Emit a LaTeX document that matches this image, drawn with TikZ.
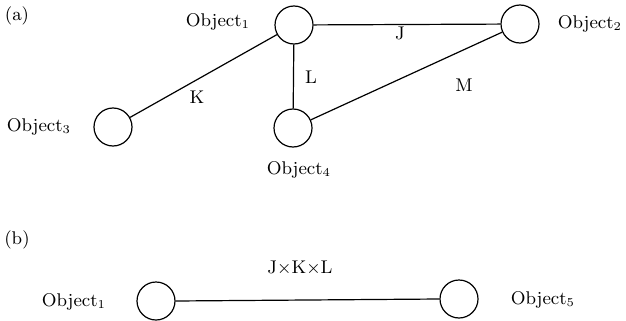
\documentclass[tikz,border=0pt]{standalone}
\begin{document}
\begin{tikzpicture}[x=0.5pt,y=-0.5pt,
  obj/.style={draw,circle,line width=0.6pt,inner sep=0pt,minimum size=19pt},
  lab/.style={inner sep=0pt,font=\fontsize{9.2}{11}\selectfont},
  link/.style={line width=0.6pt}]
\useasboundingbox (0,0) rectangle (626,321);
% (a)
\node[lab] (la) at (17,16) {(a)};
\node[obj] (o1) at (294,25) {};
\node[obj] (o2) at (520,24) {};
\node[obj] (o3) at (113,127) {};
\node[obj] (o4) at (293,128) {};
\node[lab] (l1) at (218,22) {Object$_1$};
\node[lab] (l2) at (590,24) {Object$_2$};
\node[lab] (l3) at (39,127) {Object$_3$};
\node[lab] (l4) at (299,170) {Object$_4$};
\draw[link] (o1) -- (o2);
\draw[link] (o1) -- (o3);
\draw[link] (o1) -- (o4);
\draw[link] (o2) -- (o4);
\node[lab] (j) at (400,33) {J};
\node[lab] (l) at (311,77) {L};
\node[lab] (k) at (197,97) {K};
\node[lab] (m) at (464,85) {M};
% (b)
\node[lab] (lb) at (17,240) {(b)};
\node[obj] (p1) at (156,301) {};
\node[obj] (p5) at (459,299) {};
\node[lab] (pl1) at (74,302) {Object$_1$};
\node[lab] (pl5) at (543,300) {Object$_5$};
\draw[link] (p1.east) -- (p5.west);
\node[lab] (jkl) at (300,268) {J$\times$K$\times$L};
\end{tikzpicture}
\end{document}
